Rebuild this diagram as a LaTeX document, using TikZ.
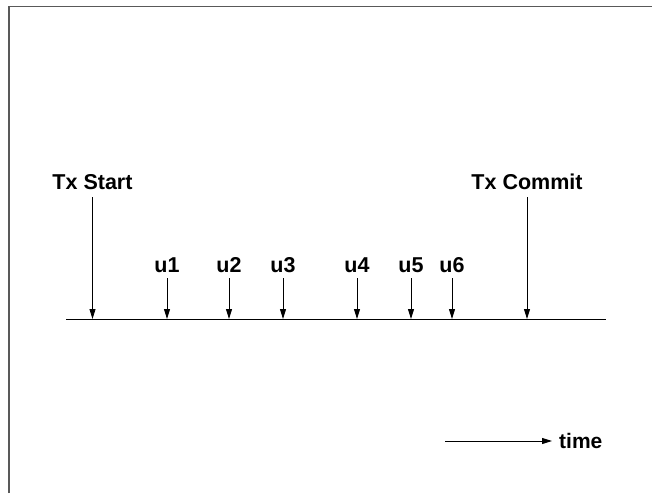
\documentclass[tikz,border=0pt]{standalone}
\usepackage{fontspec}
\setmainfont{Liberation Sans}
\usetikzlibrary{arrows.meta}
\begin{document}
\begin{tikzpicture}[x=1pt,y=1pt,
  lbl/.style={font=\fontsize{21.5}{25}\selectfont\bfseries, inner sep=0pt, anchor=base},
  evarrow/.style={line width=0.9pt, -{Triangle[length=10pt,width=6pt]}},
]
\useasboundingbox (0,0) rectangle (652,493);
% frame (partially cropped)
\draw[line width=1.4pt, black!65] (9,0) -- (9,486.5) -- (652,486.5);
% axis
\coordinate (axL) at (66,174);
\coordinate (axR) at (606,174);
\draw[line width=1pt] (axL) -- (axR);
% labels
\node[lbl] (ts) at (92.5,303) {Tx Start};
\node[lbl] (tc) at (527,303) {Tx Commit};
\node[lbl] (u1) at (167,221) {u1};
\node[lbl] (u2) at (229,221) {u2};
\node[lbl] (u3) at (283,221) {u3};
\node[lbl] (u4) at (357,221) {u4};
\node[lbl] (u5) at (411,221) {u5};
\node[lbl] (u6) at (452,221) {u6};
% axis points
\foreach \n/\x in {ts/92.5, tc/527, u1/167, u2/229, u3/283, u4/357, u5/411, u6/452} {
  \coordinate (p\n) at (\x,174);
}
\draw[evarrow, shorten <=7pt] (ts.south) -- (pts);
\draw[evarrow, shorten <=7pt] (tc.south) -- (ptc);
\foreach \n in {u1,u2,u3,u4,u5,u6} {
  \draw[evarrow, shorten <=6pt] (\n.south) -- (p\n);
}
% time arrow
\coordinate (tA) at (445,52);
\node[font=\fontsize{21}{25}\selectfont\bfseries, inner sep=0pt, anchor=west] (time) at (559,52) {time};
\draw[evarrow, shorten >=7pt] (tA) -- (time.west);
\end{tikzpicture}
\end{document}
